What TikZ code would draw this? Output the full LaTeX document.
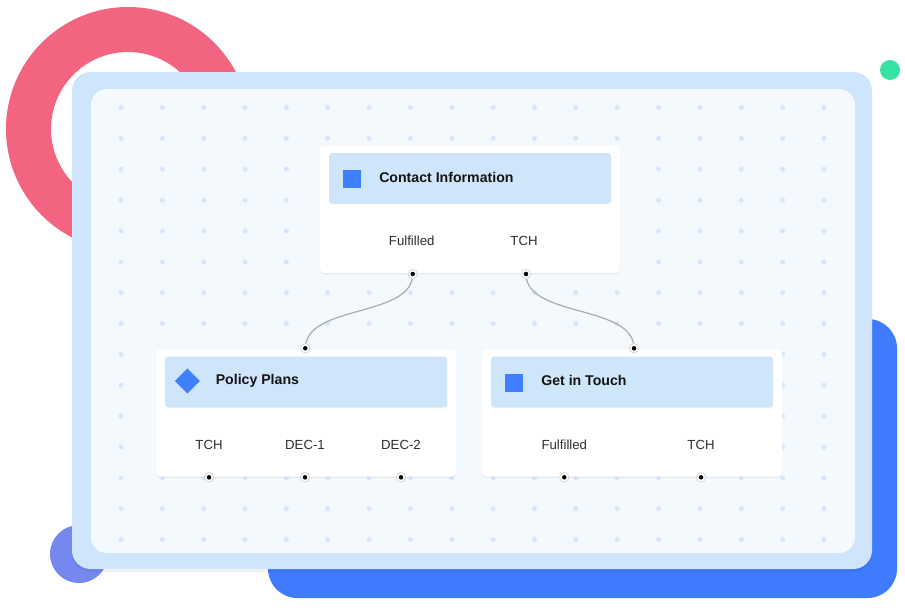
\documentclass[tikz,border=0pt]{standalone}
\usepackage{fontspec}
\setmainfont{Liberation Sans}
\usetikzlibrary{shadows}
\definecolor{pinkring}{HTML}{F2647F}
\definecolor{bluebg}{HTML}{3F7BFF}
\definecolor{purpledot}{HTML}{7488F0}
\definecolor{greendot}{HTML}{35E2A3}
\definecolor{panelout}{HTML}{CFE5FB}
\definecolor{panelin}{HTML}{F4F9FE}
\definecolor{griddot}{HTML}{D8E6FC}
\definecolor{headfill}{HTML}{CFE5FA}
\definecolor{iconblue}{HTML}{4080FF}
\definecolor{textdark}{HTML}{141414}
\definecolor{labelgray}{HTML}{2E2E2E}
\definecolor{wire}{HTML}{ABABAB}
\tikzset{
  card/.style={fill=white, rounded corners=3pt, minimum width=225pt, minimum height=95.25pt,
    inner sep=0pt, drop shadow={shadow xshift=0pt, shadow yshift=-1pt, opacity=0.10, fill=black!60}},
  header/.style={fill=headfill, rounded corners=2.5pt, minimum width=211.5pt, minimum height=38.25pt, inner sep=0pt},
  sqicon/.style={fill=iconblue, minimum size=13.5pt, inner sep=0pt},
  dmicon/.style={fill=iconblue, minimum size=13.3pt, inner sep=0pt, rotate=45},
  title/.style={text=textdark, font=\fontsize{10.6}{13}\selectfont\bfseries, anchor=west, inner sep=0pt},
  lbl/.style={text=labelgray, font=\fontsize{9.9}{12}\selectfont, inner sep=0pt},
  port/.style={circle, fill=white, draw=black!18, line width=0.5pt, minimum size=7pt, inner sep=0pt,
    path picture={\fill[black] (path picture bounding box.center) circle[radius=1.7pt];}},
  wirestyle/.style={draw=wire, line width=0.9pt}
}
\begin{document}
\begin{tikzpicture}[x=0.75pt,y=-0.75pt]
\useasboundingbox (0,0) rectangle (905,607);
% decorative background shapes
\fill[pinkring, even odd rule] (128,129) circle[radius=122] (128,129) circle[radius=77];
\fill[bluebg, rounded corners=22pt] (268,319) rectangle (897,598);
\fill[purpledot] (79,554) circle[radius=29];
\fill[greendot] (890,70) circle[radius=10];
% panels
\fill[black, opacity=0.05, rounded corners=14pt] (72,74) rectangle (872,572);
\fill[panelout, rounded corners=14pt] (72,72) rectangle (872,569);
\fill[panelin, rounded corners=12pt] (91,89) rectangle (855,553);
% dot grid
\foreach \i in {0,...,17} {
  \foreach \j in {0,...,14} {
    \fill[griddot] ({121+41.35*\i},{107.5+30.86*\j}) circle[radius=2.5];
  }
}
% Contact Information card
\node[card] (c1) at (470,209.5) {};
\node[header] (h1) at (470,178.5) {};
\node[sqicon] (i1) at (351.7,179) {};
\node[title] (t1) at (379,177) {Contact Information};
\node[lbl] (l11) at (411.7,241) {Fulfilled};
\node[lbl] (l12) at (524,241) {TCH};
% Policy Plans card
\node[card] (c2) at (306.2,413) {};
\node[header] (h2) at (306.2,382) {};
\node[dmicon] (i2) at (187.3,381) {};
\node[title] (t2) at (215.5,380.5) {Policy Plans};
\node[lbl] (l21) at (209,444.7) {TCH};
\node[lbl] (l22) at (305,444.7) {DEC-1};
\node[lbl] (l23) at (401,444.7) {DEC-2};
% Get in Touch card
\node[card] (c3) at (632,413) {};
\node[header] (h3) at (632,382) {};
\node[sqicon] (i3) at (513.7,382.5) {};
\node[title] (t3) at (541,380.5) {Get in Touch};
\node[lbl] (l31) at (564.3,444.7) {Fulfilled};
\node[lbl] (l32) at (701,444.7) {TCH};
% connectors
\coordinate (p11) at (412.7,274);
\coordinate (p12) at (526,274);
\coordinate (p2in) at (305.3,348.3);
\coordinate (p3in) at (634,348.3);
\draw[wirestyle] (p11) .. controls (412.7,318) and (305.3,304) .. (p2in);
\draw[wirestyle] (p12) .. controls (526,318) and (634,304) .. (p3in);
% ports
\node[port] (q11) at (p11) {};
\node[port] (q12) at (p12) {};
\node[port] (q2in) at (p2in) {};
\node[port] (q3in) at (p3in) {};
\node[port] (q21) at (209,477.3) {};
\node[port] (q22) at (305,477.3) {};
\node[port] (q23) at (401,477.3) {};
\node[port] (q31) at (564.3,477.3) {};
\node[port] (q32) at (701,477.3) {};
\end{tikzpicture}
\end{document}
